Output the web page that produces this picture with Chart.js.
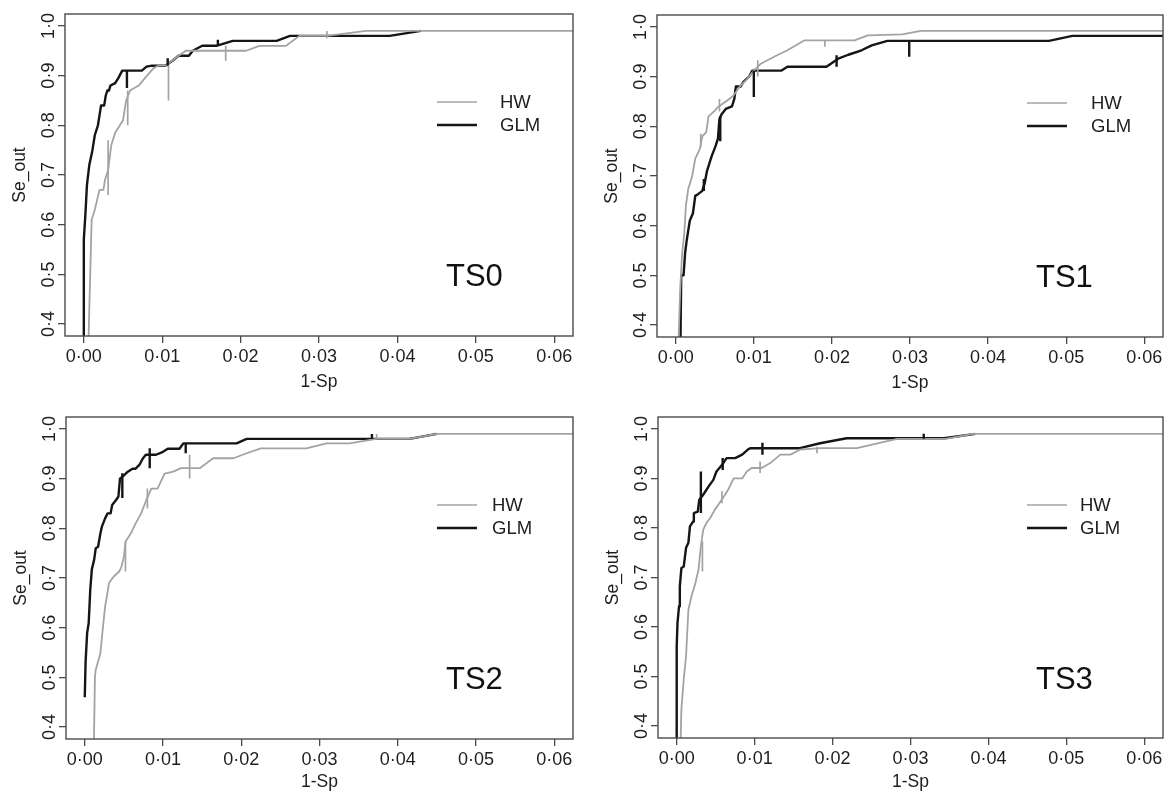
<!DOCTYPE html>
<html lang="en">
<head>
<meta charset="utf-8">
<title>Se_out vs 1-Sp, TS0 to TS3</title>
<style>
html, body { margin: 0; padding: 0; background: #fff; overflow: hidden; }
body { width: 1165px; height: 794px; position: relative; }
canvas { position: absolute; }
</style>
</head>
<body>
<canvas id="ts0"></canvas>
<canvas id="ts1"></canvas>
<canvas id="ts2"></canvas>
<canvas id="ts3"></canvas>

<script src="https://cdn.jsdelivr.net/npm/chart.js@4.4.1/dist/chart.umd.min.js"></script>
<script>
// ---- data ----
const xTicks = [0, 0.01, 0.02, 0.03, 0.04, 0.05, 0.06];
const yTicks = [0.4, 0.5, 0.6, 0.7, 0.8, 0.9, 1.0];
const seriesNames = ['HW', 'GLM'];
const panelNames = ['TS0', 'TS1', 'TS2', 'TS3'];

// TS0
const ts0GlmX = [0, 0, 0.0002, 0.0004, 0.0007, 0.0011, 0.0014, 0.0018, 0.002, 0.0022, 0.0026, 0.0028, 0.003, 0.0032, 0.0034, 0.004, 0.0044, 0.0049, 0.0074, 0.008, 0.0087, 0.0104, 0.0113, 0.0121, 0.0134, 0.0139, 0.0151, 0.0169, 0.019, 0.0246, 0.0263, 0.0278, 0.039, 0.043];
const ts0GlmY = [0.3, 0.57, 0.62, 0.68, 0.72, 0.75, 0.78, 0.80, 0.82, 0.84, 0.84, 0.86, 0.87, 0.87, 0.88, 0.885, 0.895, 0.91, 0.91, 0.918, 0.92, 0.92, 0.93, 0.94, 0.94, 0.95, 0.96, 0.96, 0.97, 0.97, 0.98, 0.98, 0.98, 0.99];
const ts0HwX = [0.0005, 0.0007, 0.001, 0.0014, 0.0017, 0.002, 0.0025, 0.0027, 0.0031, 0.0035, 0.004, 0.0046, 0.005, 0.0054, 0.0059, 0.007, 0.0078, 0.0089, 0.0095, 0.0104, 0.0121, 0.013, 0.0207, 0.0224, 0.0258, 0.0275, 0.031, 0.036, 0.063];
const ts0HwY = [0.3, 0.43, 0.61, 0.63, 0.65, 0.67, 0.67, 0.69, 0.71, 0.76, 0.785, 0.80, 0.81, 0.85, 0.87, 0.88, 0.895, 0.915, 0.92, 0.92, 0.94, 0.95, 0.95, 0.96, 0.96, 0.98, 0.98, 0.99, 0.99];
const ts0GlmCiX = [0.0055, 0.0107, 0.0171];
const ts0GlmCiLo = [0.875, 0.92, 0.96];
const ts0GlmCiHi = [0.91, 0.935, 0.972];
const ts0HwCiX = [0.0031, 0.0056, 0.0108, 0.0181, 0.031];
const ts0HwCiLo = [0.66, 0.80, 0.85, 0.93, 0.975];
const ts0HwCiHi = [0.77, 0.87, 0.92, 0.96, 0.99];

// TS1
const ts1GlmX = [0.00056, 0.0007, 0.001, 0.0012, 0.0014, 0.0016, 0.0018, 0.0022, 0.0025, 0.0029, 0.0034, 0.0037, 0.004, 0.0046, 0.0051, 0.0054, 0.0056, 0.0059, 0.0064, 0.0072, 0.0075, 0.0077, 0.0083, 0.0087, 0.0094, 0.0098, 0.0135, 0.0143, 0.0193, 0.0208, 0.0221, 0.0238, 0.0251, 0.0271, 0.0478, 0.0508, 0.063];
const ts1GlmY = [0.3, 0.50, 0.50, 0.545, 0.57, 0.59, 0.61, 0.625, 0.66, 0.664, 0.67, 0.685, 0.71, 0.74, 0.76, 0.775, 0.815, 0.825, 0.835, 0.84, 0.855, 0.88, 0.88, 0.89, 0.90, 0.912, 0.912, 0.92, 0.92, 0.936, 0.944, 0.953, 0.963, 0.972, 0.972, 0.982, 0.982];
const ts1HwX = [0.0002, 0.00056, 0.0008, 0.0011, 0.0013, 0.0016, 0.0021, 0.0025, 0.0031, 0.0034, 0.0039, 0.0042, 0.0049, 0.0055, 0.0066, 0.0074, 0.0082, 0.0092, 0.01, 0.0109, 0.0126, 0.0143, 0.0165, 0.0229, 0.0246, 0.029, 0.0314, 0.063];
const ts1HwY = [0.3, 0.465, 0.54, 0.586, 0.64, 0.674, 0.70, 0.735, 0.755, 0.78, 0.788, 0.82, 0.83, 0.84, 0.852, 0.862, 0.88, 0.896, 0.912, 0.926, 0.94, 0.953, 0.973, 0.973, 0.983, 0.985, 0.992, 0.992];
const ts1GlmCiX = [0.0036, 0.0057, 0.01, 0.0206, 0.0299];
const ts1GlmCiLo = [0.67, 0.77, 0.859, 0.92, 0.94];
const ts1GlmCiHi = [0.694, 0.82, 0.912, 0.943, 0.973];
const ts1HwCiX = [0.0032, 0.0056, 0.0105, 0.0191];
const ts1HwCiLo = [0.758, 0.83, 0.90, 0.96];
const ts1HwCiHi = [0.785, 0.855, 0.933, 0.973];

// TS2
const ts2GlmX = [0, 0.0001, 0.0003, 0.0005, 0.0007, 0.0009, 0.0012, 0.0014, 0.0017, 0.002, 0.0022, 0.0026, 0.0029, 0.0033, 0.0035, 0.004, 0.0043, 0.0045, 0.0049, 0.0055, 0.0061, 0.0065, 0.007, 0.0074, 0.0078, 0.0091, 0.01, 0.0106, 0.0121, 0.0126, 0.0194, 0.0207, 0.0415, 0.045];
const ts2GlmY = [0.46, 0.53, 0.589, 0.609, 0.676, 0.717, 0.737, 0.76, 0.763, 0.79, 0.804, 0.82, 0.83, 0.83, 0.847, 0.857, 0.864, 0.90, 0.905, 0.914, 0.92, 0.92, 0.928, 0.94, 0.948, 0.948, 0.954, 0.96, 0.96, 0.971, 0.971, 0.98, 0.98, 0.99];
const ts2HwX = [0.0011, 0.0013, 0.0014, 0.0017, 0.002, 0.0022, 0.0026, 0.0029, 0.0031, 0.0037, 0.0044, 0.0047, 0.005, 0.0052, 0.0059, 0.0065, 0.0072, 0.0078, 0.0085, 0.0093, 0.0102, 0.0113, 0.0123, 0.0147, 0.0164, 0.019, 0.0207, 0.0225, 0.0283, 0.0309, 0.0338, 0.0373, 0.0415, 0.045, 0.063];
const ts2HwY = [0.3, 0.502, 0.515, 0.532, 0.549, 0.582, 0.643, 0.67, 0.69, 0.703, 0.713, 0.723, 0.743, 0.773, 0.79, 0.81, 0.83, 0.854, 0.88, 0.88, 0.91, 0.914, 0.921, 0.921, 0.941, 0.941, 0.951, 0.961, 0.961, 0.971, 0.971, 0.98, 0.98, 0.99, 0.99];
const ts2GlmCiX = [0.0048, 0.0083, 0.0129, 0.0367];
const ts2GlmCiLo = [0.861, 0.921, 0.951, 0.98];
const ts2GlmCiHi = [0.911, 0.961, 0.971, 0.99];
const ts2HwCiX = [0.0052, 0.008, 0.0134, 0.0373];
const ts2HwCiLo = [0.713, 0.84, 0.90, 0.98];
const ts2HwCiHi = [0.773, 0.88, 0.948, 0.99];

// TS3
const ts3GlmX = [0, 0, 0.0001, 0.0003, 0.0004, 0.0006, 0.0009, 0.0012, 0.0015, 0.0017, 0.0021, 0.0022, 0.0027, 0.0029, 0.0034, 0.0041, 0.0047, 0.0051, 0.0058, 0.0064, 0.0075, 0.0084, 0.0092, 0.0095, 0.0158, 0.0184, 0.0218, 0.0343, 0.0383];
const ts3GlmY = [0.3, 0.561, 0.608, 0.642, 0.682, 0.719, 0.722, 0.76, 0.77, 0.803, 0.813, 0.83, 0.833, 0.857, 0.867, 0.884, 0.897, 0.914, 0.927, 0.941, 0.941, 0.948, 0.959, 0.961, 0.961, 0.971, 0.981, 0.981, 0.99];
const ts3HwX = [0.0004, 0.0006, 0.0009, 0.0012, 0.0015, 0.0019, 0.0024, 0.0028, 0.0031, 0.0034, 0.0038, 0.0043, 0.0049, 0.0056, 0.0062, 0.0066, 0.0073, 0.0084, 0.009, 0.0096, 0.0109, 0.012, 0.0133, 0.0146, 0.0158, 0.0184, 0.0231, 0.0283, 0.0345, 0.038, 0.063];
const ts3HwY = [0.3, 0.434, 0.494, 0.541, 0.635, 0.662, 0.689, 0.716, 0.763, 0.796, 0.81, 0.82, 0.837, 0.853, 0.867, 0.877, 0.90, 0.90, 0.914, 0.921, 0.921, 0.931, 0.948, 0.948, 0.958, 0.961, 0.961, 0.98, 0.98, 0.99, 0.99];
const ts3GlmCiX = [0.0031, 0.0059, 0.011, 0.0317];
const ts3GlmCiLo = [0.83, 0.917, 0.948, 0.98];
const ts3GlmCiHi = [0.914, 0.941, 0.972, 0.99];
const ts3HwCiX = [0.0033, 0.0058, 0.0107, 0.018];
const ts3HwCiLo = [0.712, 0.85, 0.911, 0.951];
const ts3HwCiHi = [0.773, 0.874, 0.934, 0.964];

// ---- drawing ----
const FONT = '"Liberation Sans", Arial, Helvetica, sans-serif';
const HW_COLOR = '#a3a3a3';
const GLM_COLOR = '#151515';
const AXIS_COLOR = '#4a4a4a';
const TEXT_COLOR = '#1e1e1e';

function toPoints(xs, ys){
    return xs.map((x, i) => ({x: x, y: ys[i]}));
}

// vertical bars, broken apart with null points
function toBars(xs, lo, hi){
    const pts = [];
    xs.forEach((x, i) => {
        pts.push({x: x, y: lo[i]}, {x: x, y: hi[i]}, {x: x, y: null});
    });
    return pts;
}

function fmt(v, digits){
    return v.toFixed(digits).replace('.', '\u00b7');
}

const panelDecor = {
    id: 'panelDecor',
    afterDraw(chart){
        const ctx = chart.ctx;
        const a = chart.chartArea;
        const o = chart.options.plugins.panelDecor;
        ctx.save();
        // box around the plot
        ctx.strokeStyle = AXIS_COLOR;
        ctx.lineWidth = 1.4;
        ctx.strokeRect(a.left, a.top, a.right - a.left, a.bottom - a.top);

        // legend
        const x1 = a.right - 136, x2 = a.right - 96;
        const rows = [[seriesNames[0], HW_COLOR, 1.7, a.top + 88], [seriesNames[1], GLM_COLOR, 2.4, a.top + 111]];
        ctx.font = '18.5px ' + FONT;
        ctx.textBaseline = 'middle';
        ctx.textAlign = 'left';
        rows.forEach(r => {
            ctx.strokeStyle = r[1];
            ctx.lineWidth = r[2];
            ctx.beginPath();
            ctx.moveTo(x1, r[3]);
            ctx.lineTo(x2, r[3]);
            ctx.stroke();
            ctx.fillStyle = TEXT_COLOR;
            ctx.fillText(r[0], x2 + o.legendGap, r[3] + 1);
        });

        // panel name
        ctx.font = '31px ' + FONT;
        ctx.fillStyle = '#111';
        ctx.fillText(o.name, a.right - 127, a.top + 263);
        ctx.restore();
    }
};

function makeChart(p){
    const canvas = document.getElementById(p.id);
    canvas.width = p.w;
    canvas.height = p.h;
    canvas.style.left = p.left + 'px';
    canvas.style.top = p.top + 'px';

    const lineBase = {showLine: true, pointRadius: 0, tension: 0, fill: false, borderJoinStyle: 'round', spanGaps: false};

    return new Chart(canvas.getContext('2d'), {
        type: 'scatter',
        data: {
            datasets: [
                Object.assign({label: 'HW CI', data: toBars(p.hwCiX, p.hwCiLo, p.hwCiHi), borderColor: HW_COLOR, borderWidth: 1.7}, lineBase),
                Object.assign({label: 'GLM CI', data: toBars(p.glmCiX, p.glmCiLo, p.glmCiHi), borderColor: GLM_COLOR, borderWidth: 2.4}, lineBase),
                Object.assign({label: seriesNames[0], data: toPoints(p.hwX, p.hwY), borderColor: HW_COLOR, borderWidth: 1.8}, lineBase),
                Object.assign({label: seriesNames[1], data: toPoints(p.glmX, p.glmY), borderColor: GLM_COLOR, borderWidth: 2.4}, lineBase),
            ]
        },
        options: {
            responsive: false,
            animation: false,
            layout: {padding: {left: 0, top: 14, right: 9, bottom: 0}},
            plugins: {
                legend: {display: false},
                tooltip: {enabled: false},
                panelDecor: {name: p.name, legendGap: p.legendGap},
            },
            scales: {
                x: {
                    type: 'linear',
                    min: -0.0024,
                    max: 0.0624,
                    afterBuildTicks: s => { s.ticks = xTicks.map(v => ({value: v})); },
                    afterFit: s => { s.height = p.axisH; },
                    ticks: {
                        callback: v => fmt(v, 2),
                        font: {family: FONT, size: 18},
                        color: TEXT_COLOR,
                        padding: 3,
                        maxRotation: 0,
                        minRotation: 0,
                    },
                    grid: {drawOnChartArea: false, drawTicks: true, tickLength: 7, color: AXIS_COLOR, lineWidth: 1.3},
                    border: {display: false},
                    title: {display: true, text: '1-Sp', font: {family: FONT, size: 17.5}, color: TEXT_COLOR, padding: {top: 0, bottom: 1}},
                },
                y: {
                    type: 'linear',
                    min: 0.376,
                    max: 1.024,
                    afterBuildTicks: s => { s.ticks = yTicks.map(v => ({value: v})); },
                    afterFit: s => { s.width = 65; },
                    ticks: {
                        callback: v => fmt(v, 1),
                        font: {family: FONT, size: 18},
                        color: TEXT_COLOR,
                        minRotation: 90,
                        maxRotation: 90,
                        crossAlign: 'center',
                        padding: -4,
                    },
                    grid: {drawOnChartArea: false, drawTicks: true, tickLength: 7, color: AXIS_COLOR, lineWidth: 1.3},
                    border: {display: false},
                    title: {display: true, text: 'Se_out', font: {family: FONT, size: 17.5}, color: TEXT_COLOR, padding: {top: 10, bottom: 0}},
                },
            },
        },
        plugins: [panelDecor],
    });
}

const panels = [
    {id: 'ts0', name: panelNames[0], left: 0, top: 0, w: 582, h: 394, axisH: 58, legendGap: 23,
     glmX: ts0GlmX, glmY: ts0GlmY, hwX: ts0HwX, hwY: ts0HwY,
     glmCiX: ts0GlmCiX, glmCiLo: ts0GlmCiLo, glmCiHi: ts0GlmCiHi, hwCiX: ts0HwCiX, hwCiLo: ts0HwCiLo, hwCiHi: ts0HwCiHi},
    {id: 'ts1', name: panelNames[1], left: 592, top: 1, w: 580, h: 394, axisH: 58, legendGap: 24,
     glmX: ts1GlmX, glmY: ts1GlmY, hwX: ts1HwX, hwY: ts1HwY,
     glmCiX: ts1GlmCiX, glmCiLo: ts1GlmCiLo, glmCiHi: ts1GlmCiHi, hwCiX: ts1HwCiX, hwCiLo: ts1HwCiLo, hwCiHi: ts1HwCiHi},
    {id: 'ts2', name: panelNames[2], left: 1, top: 403, w: 581, h: 391, axisH: 55, legendGap: 15,
     glmX: ts2GlmX, glmY: ts2GlmY, hwX: ts2HwX, hwY: ts2HwY,
     glmCiX: ts2GlmCiX, glmCiLo: ts2GlmCiLo, glmCiHi: ts2GlmCiHi, hwCiX: ts2HwCiX, hwCiLo: ts2HwCiLo, hwCiHi: ts2HwCiHi},
    {id: 'ts3', name: panelNames[3], left: 593, top: 403, w: 579, h: 391, axisH: 56, legendGap: 13,
     glmX: ts3GlmX, glmY: ts3GlmY, hwX: ts3HwX, hwY: ts3HwY,
     glmCiX: ts3GlmCiX, glmCiLo: ts3GlmCiLo, glmCiHi: ts3GlmCiHi, hwCiX: ts3HwCiX, hwCiLo: ts3HwCiLo, hwCiHi: ts3HwCiHi},
];

panels.forEach(makeChart);
</script>
</body>
</html>
